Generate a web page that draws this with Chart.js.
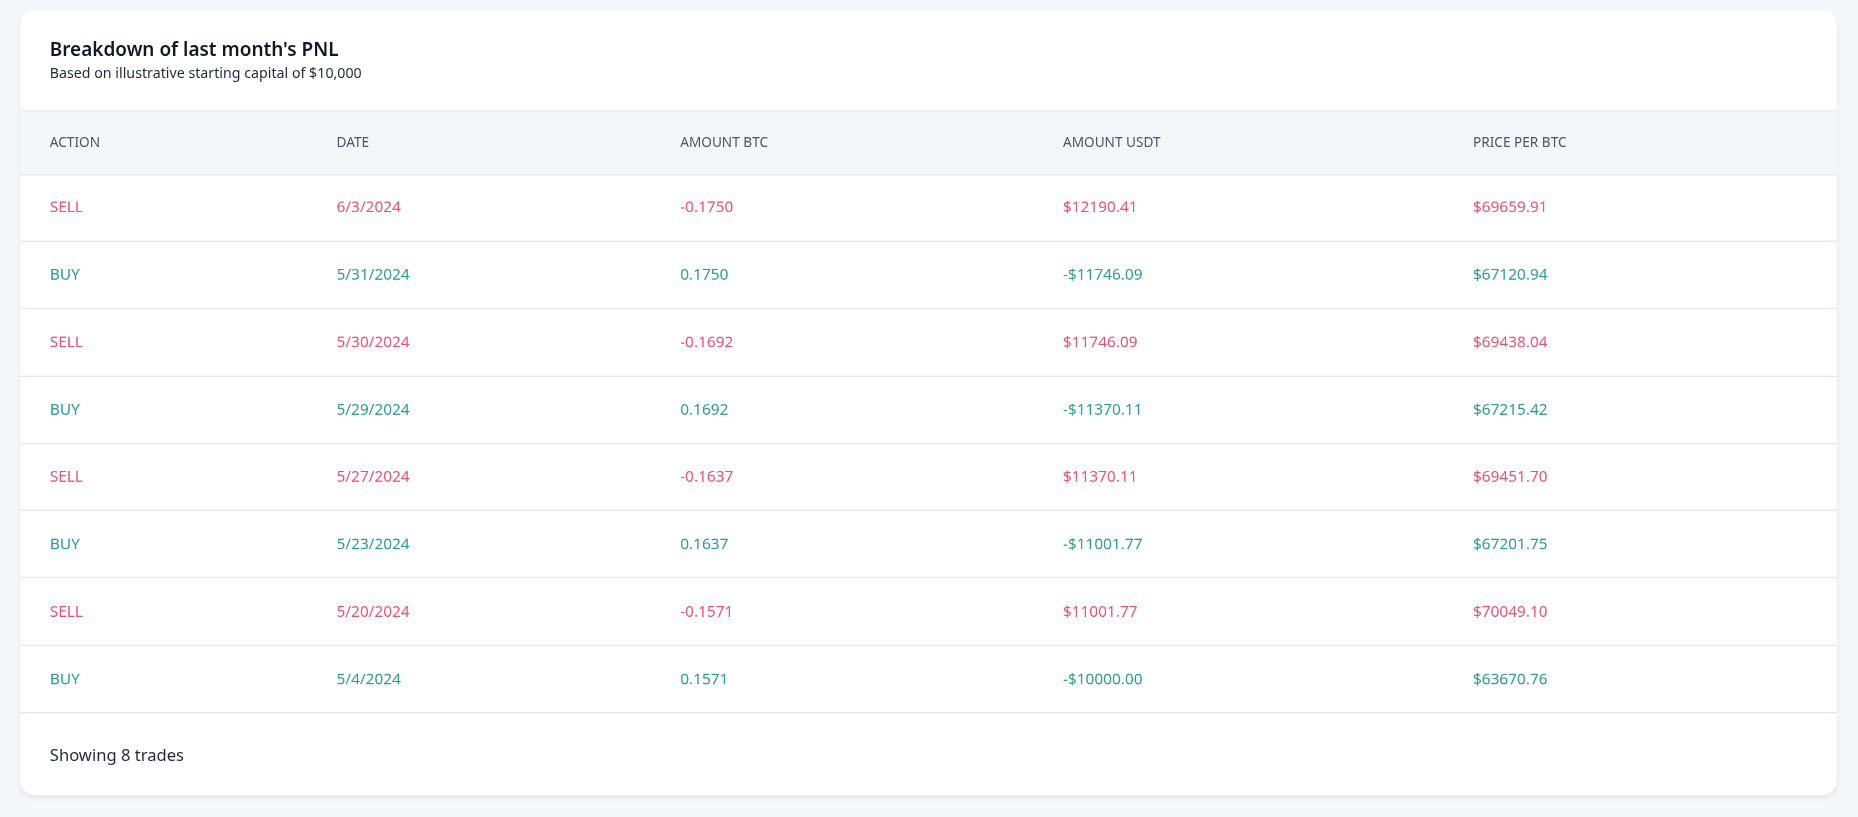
<!DOCTYPE html>
<html>
<head>
<meta charset="utf-8">
<script src="https://cdn.jsdelivr.net/npm/chart.js@4.4.1/dist/chart.umd.min.js"></script>
<style>
    body { margin: 0; background: #f5f8fa; font-family: "Noto Sans", "Open Sans", sans-serif; overflow: hidden; }
    .page { position: absolute; left: 0; top: 0; width: 1568px; height: 690px; transform: scale(1.185); transform-origin: 0 0; }
    .card { position: absolute; left: 17px; top: 9px; width: 1533px; height: 662px; background: #fff;
            border-radius: 12px; box-shadow: 0 2px 4px rgba(0,0,0,0.08); overflow: hidden; }
    .title { position: absolute; left: 25px; top: 21px; font-size: 16px; font-weight: 600; color: #111827; }
    .sub { position: absolute; left: 25px; top: 44px; font-size: 12px; color: #1f2937; }
    .head { position: absolute; left: 0; top: 84px; width: 100%; height: 53px; background: #f4f7fa;
            border-top: 1px solid #e8ecf0; border-bottom: 1px solid #e5e7eb; }
    .head span { position: absolute; top: 18px; font-size: 11.5px; color: #4b5563; }
    .wrap { position: absolute; left: 0; top: 138px; width: 1533px; height: 455px; }
    .foot { position: absolute; left: 25px; top: 618px; font-size: 14px; color: #1f2937; }
</style>
</head>
<body>
<div class="page">
<div class="card">
    <div class="title">Breakdown of last month's PNL</div>
    <div class="sub">Based on illustrative starting capital of $10,000</div>
    <div class="head" id="head"></div>
    <div class="wrap"><canvas id="tbl"></canvas></div>
    <div class="foot" id="foot"></div>
</div>
</div>
<script>
// table data
const columns = ['ACTION', 'DATE', 'AMOUNT BTC', 'AMOUNT USDT', 'PRICE PER BTC'];
const actions = ['SELL', 'BUY', 'SELL', 'BUY', 'SELL', 'BUY', 'SELL', 'BUY'];
const dates = ['6/3/2024', '5/31/2024', '5/30/2024', '5/29/2024', '5/27/2024', '5/23/2024', '5/20/2024', '5/4/2024'];
const amountBtc = ['-0.1750', '0.1750', '-0.1692', '0.1692', '-0.1637', '0.1637', '-0.1571', '0.1571'];
const amountUsdt = ['$12190.41', '-$11746.09', '$11746.09', '-$11370.11', '$11370.11', '-$11001.77', '$11001.77', '-$10000.00'];
const pricePerBtc = ['$69659.91', '$67120.94', '$69438.04', '$67215.42', '$69451.70', '$67201.75', '$70049.10', '$63670.76'];

// column left offsets inside the card (layout only)
const colX = [25, 267, 557, 880, 1226];

const head = document.getElementById('head');
columns.forEach((c, i) => {
    const s = document.createElement('span');
    s.textContent = c;
    s.style.left = colX[i] + 'px';
    head.appendChild(s);
});
document.getElementById('foot').textContent = 'Showing ' + actions.length + ' trades';

const cellPlugin = {
    id: 'cells',
    afterDraw(chart) {
        const ctx = chart.ctx;
        const y = chart.scales.y;
        const rows = dates.map((d, i) => [actions[i], d, amountBtc[i], amountUsdt[i], pricePerBtc[i]]);
        ctx.save();
        ctx.font = '13px "Noto Sans", "Open Sans", sans-serif';
        ctx.textBaseline = 'middle';
        rows.forEach((r, i) => {
            const py = y.getPixelForValue(i);
            const half = (y.getPixelForValue(1) - y.getPixelForValue(0)) / 2;
            ctx.fillStyle = actions[i] === 'SELL' ? '#f0506e' : '#2a9d8f';
            r.forEach((t, j) => ctx.fillText(t, colX[j], py));
            ctx.strokeStyle = '#e5e7eb';
            ctx.lineWidth = 1;
            ctx.beginPath();
            ctx.moveTo(0, Math.round(py + half) - 0.5);
            ctx.lineTo(chart.width, Math.round(py + half) - 0.5);
            ctx.stroke();
        });
        ctx.restore();
    }
};

new Chart(document.getElementById('tbl'), {
    type: 'scatter',
    data: {
        datasets: [{
            data: dates.map((d, i) => ({ x: 0, y: d })),
            pointRadius: 0
        }]
    },
    options: {
        responsive: true,
        maintainAspectRatio: false,
        animation: false,
        devicePixelRatio: 2,
        layout: { padding: 0 },
        plugins: { legend: { display: false }, tooltip: { enabled: false } },
        scales: {
            x: { type: 'linear', display: false, min: 0, max: 1 },
            y: { type: 'category', labels: dates, offset: true, display: false }
        }
    },
    plugins: [cellPlugin]
});
</script>
</body>
</html>
